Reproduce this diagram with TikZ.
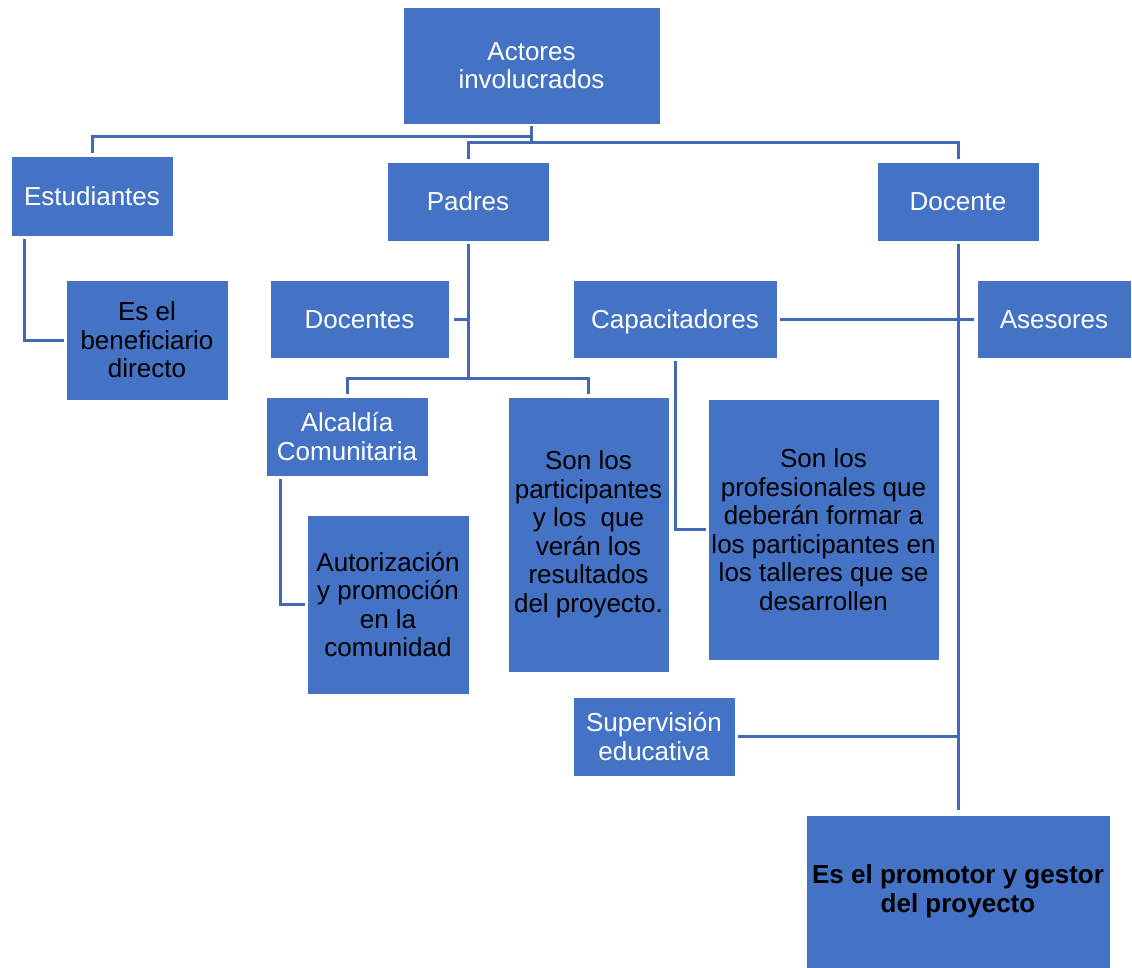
\documentclass[tikz,border=0pt]{standalone}
\usepackage{fontspec}
\setmainfont{Liberation Sans}
\definecolor{boxblue}{HTML}{4472C4}
\definecolor{lineblue}{HTML}{4169B5}
\begin{document}
\begin{tikzpicture}[x=1pt,y=-1pt,
  box/.style={fill=boxblue,draw=white,line width=0.8pt,inner sep=0pt,align=center,
    font=\fontsize{26}{28.5}\selectfont},
  wt/.style={box,text=white},
  bk/.style={box,text=black},
  one/.style={text height=18.6pt,text depth=0pt},
  conn/.style={draw=lineblue,line width=3pt}]
\useasboundingbox (0,0) rectangle (1132,968);
\node[wt,minimum width=257,minimum height=117] (act) at (531.5,65.5) {Actores\\involucrados};
\node[wt,one,minimum width=162,minimum height=80] (est) at (92,196) {Estudiantes};
\node[wt,one,minimum width=162,minimum height=79] (pad) at (468,201.5) {Padres};
\node[wt,one,minimum width=162,minimum height=79] (doc) at (958,201.5) {Docente};
\node[bk,minimum width=162,minimum height=120] (esel) at (147,340) {Es el\\beneficiario\\directo};
\node[wt,one,minimum width=179,minimum height=78] (docs) at (359.5,319) {Docentes};
\node[wt,one,minimum width=204,minimum height=78] (cap) at (675,319) {Capacitadores};
\node[wt,one,minimum width=154,minimum height=78] (ase) at (1054,319) {Asesores};
\node[wt,minimum width=162,minimum height=79] (alc) at (347,436.5) {Alcaldía\\Comunitaria};
\node[bk,minimum width=162,minimum height=179] (aut) at (388,604.5) {Autorización\\y promoción\\en la\\comunidad};
\node[bk,minimum width=161,minimum height=275] (part) at (588.5,534.5) {Son los\\participantes\\y los\ \ que\\verán los\\resultados\\del proyecto.};
\node[bk,minimum width=231,minimum height=261] (prof) at (823.5,529.5) {Son los\\profesionales que\\deberán formar a\\los participantes en\\los talleres que se\\desarrollen};
\node[wt,minimum width=162,minimum height=79] (sup) at (654,736.5) {Supervisión\\educativa};
\node[bk,minimum width=304,minimum height=153,font=\fontsize{26}{29}\selectfont\bfseries] (prom) at (958,891.5) {Es el promotor y gestor\\del proyecto};
% top level
\draw[conn,shorten <=2pt] (act.south) -- (act.south |- 0,143);
\draw[conn,shorten >=3pt] (act.south |- 0,137) -| (est.north);
\draw[conn,shorten <=3pt,shorten >=3pt] (pad.north) -- (pad.north |- 0,143) -| (doc.north);
% Estudiantes
\draw[conn,shorten <=3pt,shorten >=2pt] ([xshift=14pt]est.south west) |- (esel.west);
% Padres
\draw[conn,shorten <=3pt] (pad.south) -- (pad.south |- 0,378);
\draw[conn,shorten <=5pt] (docs.east) -- (docs.east -| pad.south);
\draw[conn,shorten <=3pt,shorten >=3pt] (alc.north) -- (alc.north |- 0,378) -| (part.north);
% Alcaldia
\draw[conn,shorten <=3pt,shorten >=2pt] ([xshift=15pt]alc.south west) |- (aut.west);
% Capacitadores
\draw[conn,shorten <=3pt,shorten >=2pt] (cap.south) |- (prof.west);
\draw[conn,shorten <=3pt,shorten >=3pt] (cap.east) -- (ase.west);
% Docente
\draw[conn,shorten <=3pt,shorten >=5pt] (doc.south) -- (prom.north);
\draw[conn,shorten <=3pt] (sup.east) -- (sup.east -| doc.south);
\end{tikzpicture}
\end{document}
